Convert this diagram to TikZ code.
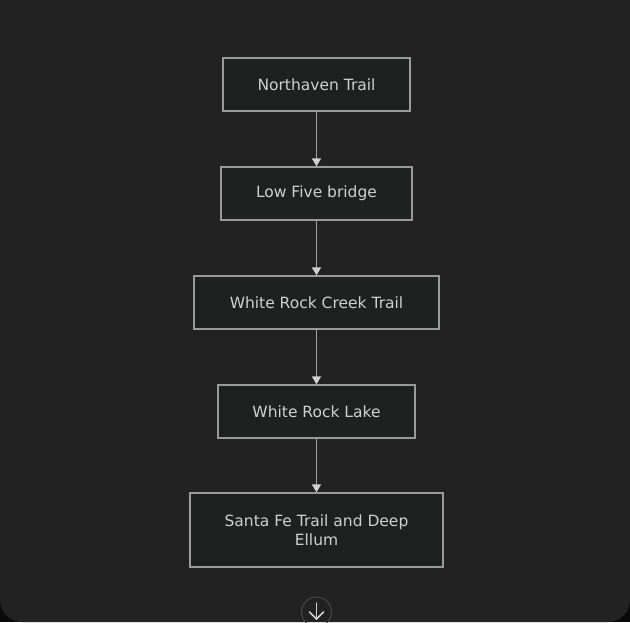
\documentclass[tikz,border=0pt]{standalone}
\usepackage{fontspec}
\setmainfont{DejaVu Sans}
\usetikzlibrary {arrows.meta}
\usetikzlibrary {positioning}

\definecolor{pagebg}{HTML}{222222}
\definecolor{outside}{HTML}{0A0A0A}
\definecolor{boxfill}{HTML}{1F2020}
\definecolor{boxline}{HTML}{9A9A9A}
\definecolor{txtgray}{HTML}{D0D0D0}
\definecolor{linkgray}{HTML}{A0A0A0}
\definecolor{ringgray}{HTML}{474747}

\tikzset{
    stop/.style = {draw=boxline, fill=boxfill, line width=1.3pt, text=txtgray,
        font=\fontsize{15.5}{19}\selectfont, align=center,
        minimum height=53pt, inner xsep=2pt},
    link/.style = {draw=linkgray, line width=1.5pt,
        -{Triangle[length=8pt, width=9pt, color=txtgray]}},
}

\begin{document}
\begin{tikzpicture}[x=1pt, y=-1pt, line cap=round, node distance=54.7pt]

    % page
    \fill[outside] (0,0) rectangle (630,622);
    \fill[pagebg] (0,0) rectangle (630,600);
    \fill[pagebg, rounded corners=22pt] (0,0) rectangle (630,622);
    \useasboundingbox (0,0) rectangle (630,622);

    \node[stop, minimum width=187pt] (north) at (316.5,84.5) {Northaven Trail};
    \node[stop, minimum width=191pt, below=of north] (lowfive) {Low Five bridge};
    \node[stop, minimum width=245pt, below=of lowfive] (creek) {White Rock Creek Trail};
    \node[stop, minimum width=197pt, below=of creek] (lake) {White Rock Lake};
    \node[stop, minimum width=253pt, minimum height=74pt, below=53.7pt of lake] (ellum) {Santa Fe Trail and Deep\\Ellum};

    \draw[link] (north) -- (lowfive);
    \draw[link] (lowfive) -- (creek);
    \draw[link] (creek) -- (lake);
    \draw[link] (lake) -- (ellum);

    % scroll button
    \node[circle, draw=ringgray, line width=1pt, minimum size=30pt, inner sep=0pt] (more) at (316.5,612) {};
    \draw[txtgray, line width=1.5pt] ([yshift=9pt]more.center) -- ([yshift=-7pt]more.center);
    \draw[txtgray, line width=1.5pt] ([xshift=-7pt]more.center) -- ([yshift=-7pt]more.center) -- ([xshift=7pt]more.center);

\end{tikzpicture}
\end{document}
